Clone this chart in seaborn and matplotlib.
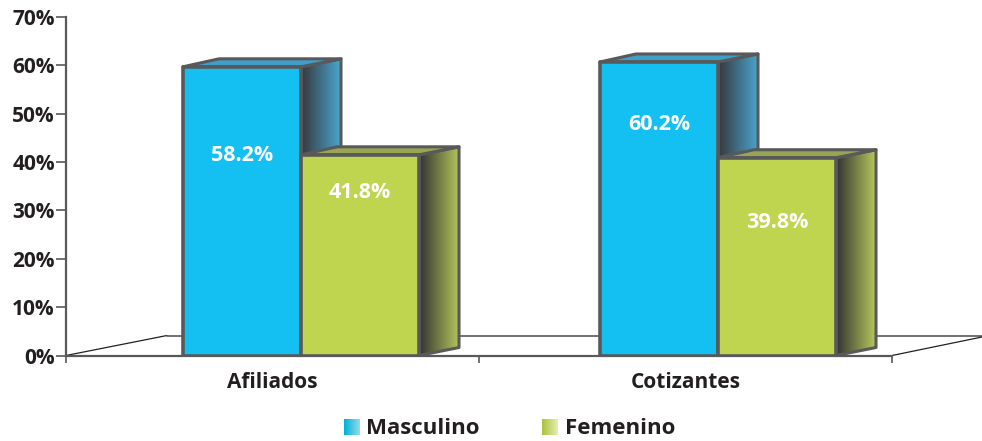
"""
Afiliados / Cotizantes por sexo: 3D-look grouped bars built on a seaborn barplot.
"""
import matplotlib
matplotlib.use("Agg")
import matplotlib.pyplot as plt
import numpy as np
import pandas as pd
import seaborn as sns
from matplotlib.colors import LinearSegmentedColormap
from matplotlib.patches import Polygon

# ==========================================
# DATA
# ==========================================
groups = ["Afiliados", "Cotizantes"]
series = ["Masculino", "Femenino"]
# bar heights as read against the printed axis (the 3D original does not sit exactly on its labels)
masculino = [59.7, 60.7]
femenino = [41.5, 40.9]
masculino_labels = ["58.2%", "60.2%"]
femenino_labels = ["41.8%", "39.8%"]
y_ticks = [0, 10, 20, 30, 40, 50, 60, 70]

# ==========================================
# STYLE
# ==========================================
W, H = 982, 441
TEXT = "#231f20"
EDGE = "#58595b"
FRONT = {"Masculino": "#14c0f2", "Femenino": "#bfd44f"}
TOP = {"Masculino": "#3f9fc9", "Femenino": "#98a552"}
SIDE = {"Masculino": ["#36393c", "#4aa6cf"], "Femenino": ["#333333", "#b6c75a"]}
LEGEND = {"Masculino": ["#00b2d2", "#8fdcf0"], "Femenino": ["#a9c23c", "#e6eeb0"]}
# vertical spot of the value labels inside the bars, on the axis scale
label_heights = {"Masculino": [41.4, 47.7], "Femenino": [33.8, 27.6]}
DEPTH_PX = (40, 8)

sns.set_theme(style="white")
plt.rcParams["font.family"] = ["Open Sans", "DejaVu Sans"]


def px_axes(fig, left, right, top, bottom):
    return fig.add_axes([left / W, 1 - bottom / H, (right - left) / W, (bottom - top) / H])


def gradient(ax, colors, extent, clip):
    cmap = LinearSegmentedColormap.from_list("g", colors)
    im = ax.imshow(np.linspace(0, 1, 64)[None, :], cmap=cmap, extent=extent,
                   aspect="auto", origin="lower", zorder=clip.get_zorder())
    im.set_clip_path(clip)


fig = plt.figure(figsize=(W / 100, H / 100), dpi=100)

# ---------------------------------------------------------
# FRAME: axis, ticks and floor
# ---------------------------------------------------------
ax = px_axes(fig, 66, 892, 17, 355.5)
ax.set_xlim(-0.5, 1.5)
ax.set_ylim(0, 70)
ax.set_xticks(range(len(groups)), groups)
ax.set_xticks([-0.5, 0.5, 1.5], minor=True)
ax.set_yticks(y_ticks, [f"{t}%" for t in y_ticks])
ax.tick_params(axis="x", which="major", length=0, pad=12, labelsize=15, labelcolor=TEXT)
ax.tick_params(axis="x", which="minor", length=5, width=1.2, color=EDGE, bottom=True)
ax.tick_params(axis="y", length=7, width=1.2, color=EDGE, left=True, pad=1,
               labelsize=15, labelcolor=TEXT)
for lab in ax.get_xticklabels() + ax.get_yticklabels():
    lab.set_fontweight("bold")
for name in ["top", "right"]:
    ax.spines[name].set_visible(False)
for name in ["left", "bottom"]:
    ax.spines[name].set_color(EDGE)
    ax.spines[name].set_linewidth(1.6)
floor_dx, floor_dy = 101 / 826, 20 / 338.5
ax.plot([0, floor_dx], [0, floor_dy], transform=ax.transAxes, color="#222222", lw=0.9, clip_on=False)
ax.plot([floor_dx, 916 / 826], [floor_dy, floor_dy], transform=ax.transAxes, color=EDGE, lw=1.2, clip_on=False)
ax.plot([1, 916 / 826], [0, 18.5 / 338.5], transform=ax.transAxes, color="#222222", lw=0.9, clip_on=False)

# ---------------------------------------------------------
# BARS: overlay axes, shifted right like the 3D original
# ---------------------------------------------------------
df = pd.DataFrame({
    "grupo": groups * 2,
    "sexo": [series[0]] * 2 + [series[1]] * 2,
    "valor": masculino + femenino,
})
bx = px_axes(fig, 92.5, 926.5, 17, 355.5)
sns.barplot(data=df, x="grupo", y="valor", hue="sexo", order=groups, hue_order=series,
            palette=FRONT, saturation=1, width=0.566, gap=0, edgecolor=EDGE, linewidth=2.6,
            legend=False, ax=bx)
bx.set_xlim(-0.5, 1.5)
bx.set_ylim(0, 70)
bx.axis("off")

dx = DEPTH_PX[0] / 417
dy = DEPTH_PX[1] / (338.5 / 70)
bars = []
for name, container in zip(series, bx.containers):
    for patch, text, lab_y in zip(container, masculino_labels if name == series[0] else femenino_labels,
                                  label_heights[name]):
        bars.append((patch.get_x(), patch, name, text, lab_y))
bars.sort(key=lambda b: b[0])

for i, (x0, patch, name, text, lab_y) in enumerate(bars):
    x1 = x0 + patch.get_width()
    top = patch.get_height()
    z = 3 + i * 3
    side = Polygon([(x1, 0), (x1 + dx, dy), (x1 + dx, top + dy), (x1, top)], closed=True,
                   facecolor="none", edgecolor="none", zorder=z)
    bx.add_patch(side)
    gradient(bx, SIDE[name], (x1, x1 + dx, 0, top + dy), side)
    bx.add_patch(Polygon(side.get_xy(), closed=True, fill=False, edgecolor=EDGE, linewidth=2.2,
                         joinstyle="round", zorder=z + 0.1))
    bx.add_patch(Polygon([(x0, top), (x0 + dx * 0.9, top + dy), (x1 + dx, top + dy), (x1, top)],
                         closed=True, facecolor=TOP[name], edgecolor=EDGE, linewidth=2.2,
                         joinstyle="round", zorder=z + 0.2))
    patch.set_zorder(z + 1)
    patch.set_joinstyle("round")
    bx.text(x0 + patch.get_width() / 2, lab_y, text, color="white", fontsize=15.5,
            fontweight="bold", ha="center", va="center", zorder=z + 2)
bx.set_xlim(-0.5, 1.5)
bx.set_ylim(0, 70)

# ---------------------------------------------------------
# LEGEND
# ---------------------------------------------------------
handles = [plt.Rectangle((0, 0), 1, 1, facecolor=LEGEND[s][0], edgecolor="none") for s in series]
leg = fig.legend(handles, series, loc="center", bbox_to_anchor=(509.5 / W, 1 - 429 / H), ncol=2,
                 frameon=False, handlelength=0.72, handleheight=0.72,
                 handletextpad=0.3, columnspacing=2.8, labelcolor=TEXT,
                 prop={"weight": "bold", "size": 16})
fig.canvas.draw()
for handle, name in zip(leg.get_patches(), series):
    box = handle.get_window_extent().transformed(fig.transFigure.inverted())
    lx = fig.add_axes([box.x0, box.y0, box.width, box.height])
    lx.imshow(np.linspace(0, 1, 32)[None, :], aspect="auto",
              cmap=LinearSegmentedColormap.from_list("l", LEGEND[name]))
    lx.axis("off")
    lx.set_zorder(leg.get_zorder() + 1)

fig.savefig("out.png", dpi=100)
